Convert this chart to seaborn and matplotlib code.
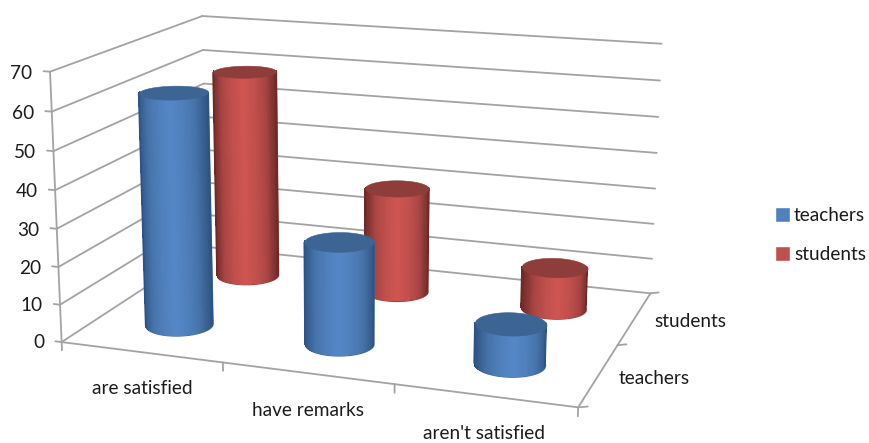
import numpy as np
import matplotlib
matplotlib.use("Agg")
import matplotlib.pyplot as plt
from matplotlib.patches import Patch
from mpl_toolkits.mplot3d import proj3d
from mpl_toolkits.mplot3d.art3d import Poly3DCollection
import seaborn as sns

# data
categories = ["are satisfied", "have remarks", "aren't satisfied"]
series_names = ["teachers", "students"]
teachers = [62, 27, 10.5]
students = [59, 29.5, 11.5]
z_ticks = [0, 10, 20, 30, 40, 50, 60, 70]

sns.set_theme(style="white")
plt.rcParams["font.family"] = ["Lato", "DejaVu Sans"]

grid_col = "#a3a3a3"
text_col = "#1c1c1c"
font_size = 13.7
radius = 0.195
azim = -70.8944

# center -> edge shading of the cylinder sides
blue_shades = sns.blend_palette(["#5587c6", "#4f7fbb", "#4672a8", "#2e5281"], 64)
red_shades = sns.blend_palette(["#ce5551", "#c04f4c", "#a84543", "#6b2927"], 64)


def cylinder(ax, cx, cy, value, shades, top_col, zorder):
    # only the half that faces the camera is drawn
    facing = np.radians(azim)
    theta = np.linspace(facing - np.pi / 2 - 0.12, facing + np.pi / 2 + 0.12, 91)
    heights = np.array([0, value])
    th, zz = np.meshgrid(theta, heights)
    xx = cx + radius * np.cos(th)
    yy = cy + radius * np.sin(th)
    edge = np.minimum(np.abs(np.sin(th - facing)), 1)
    idx = (edge * (len(shades) - 1)).astype(int)
    colors = np.array(shades)[idx]

    # smooth outline under the facets, the facets themselves are not antialiased
    outline = list(zip(xx[0], yy[0], zz[0])) + list(zip(xx[1][::-1], yy[1][::-1], zz[1][::-1]))
    under = Poly3DCollection([outline], facecolors=shades[30], edgecolors=shades[45], linewidths=0.9)
    under.set_zorder(zorder)
    ax.add_collection3d(under, autolim=False)

    surf = ax.plot_surface(xx, yy, zz, facecolors=colors, shade=False,
                           rstride=1, cstride=1, linewidth=0, antialiased=False)
    surf.set_zorder(zorder + 0.2)

    # left and right silhouette lines hide the stair steps of the facets
    ub, _, _ = proj3d.proj_transform(xx[0], yy[0], zz[0], ax.get_proj())
    ut, _, _ = proj3d.proj_transform(xx[1], yy[1], zz[1], ax.get_proj())
    for pick in (np.argmin, np.argmax):
        b, t = pick(ub), pick(ut)
        ax.plot([xx[0][b], xx[1][t]], [yy[0][b], yy[1][t]], [0, value], color=shades[-1],
                lw=1.1, solid_capstyle="butt", zorder=zorder + 0.3)

    circle = np.linspace(0, 2 * np.pi, 121)
    rim = list(zip(cx + radius * np.cos(circle), cy + radius * np.sin(circle),
                   np.full(circle.size, value)))
    top = Poly3DCollection([rim], facecolors=top_col, edgecolors=top_col, linewidths=0.4)
    top.set_zorder(zorder + 0.5)
    ax.add_collection3d(top, autolim=False)


def label(ax, x, y, z, text, **kw):
    # plain 2D text placed at the projected 3D position
    u, v, _ = proj3d.proj_transform(x, y, z, ax.get_proj())
    ax.text2D(u, v, text, transform=ax.transData, fontsize=font_size, color=text_col, **kw)


n_cat = len(categories)
n_ser = len(series_names)

fig = plt.figure(figsize=(8.69, 4.43), dpi=100)
ax = fig.add_axes([32.2 / 869, -82.9 / 443, 655.4 / 869, 655.4 / 443], projection="3d")
ax.computed_zorder = False
ax.set_axis_off()
ax.set_xticks([])
ax.set_yticks([])
ax.set_zticks([])
ax.view_init(elev=14.6957, azim=azim, roll=-0.1597)
ax.set_proj_type("persp", focal_length=0.5082)
ax.set_box_aspect((1.9149, 1.2911, 1))
ax.set_xlim(0, n_cat, view_margin=0)
ax.set_ylim(0, n_ser, view_margin=0)
ax.set_zlim(0, 70, view_margin=0)

line_kw = dict(color=grid_col, lw=1.3, zorder=1)

# walls
for z in z_ticks:
    ax.plot([0, 0], [0, n_ser], [z, z], **line_kw)
    ax.plot([0, n_cat], [n_ser, n_ser], [z, z], **line_kw)
    ax.plot([-0.04, 0], [0, 0], [z, z], **line_kw)

# floor edges and axis lines
ax.plot([0, 0], [0, 0], [0, 70], **line_kw)
ax.plot([0, n_cat], [0, 0], [0, 0], **line_kw)
ax.plot([n_cat, n_cat], [0, n_ser], [0, 0], **line_kw)

for i in range(n_cat + 1):
    ax.plot([i, i], [0, 0], [0, -2.2], **line_kw)
for j in range(n_ser + 1):
    ax.plot([n_cat, n_cat + 0.05], [j, j], [0, 0.5], **line_kw)

# back row first so the front row covers it
for i in range(n_cat):
    cylinder(ax, i + 0.5, 1.52, students[i], red_shades, "#8f3d3a", 3 + i)
for i in range(n_cat):
    cylinder(ax, i + 0.5, 0.5, teachers[i], blue_shades, "#3d6593", 8 + i)

ax.set_xlim(0, n_cat, view_margin=0)
ax.set_ylim(0, n_ser, view_margin=0)
ax.set_zlim(0, 70, view_margin=0)

for z in z_ticks:
    label(ax, -0.11, 0, z - 0.8, str(z), ha="right", va="center")
for i, name in enumerate(categories):
    label(ax, i + 0.5, 0, -9.6, name, ha="center", va="center")
for j, name in enumerate(series_names):
    label(ax, n_cat + 0.30 + 0.03 * j, j + 0.5, 0.8, name, ha="center", va="center")

handles = [Patch(facecolor="#4f81bd", label=series_names[0]),
           Patch(facecolor="#c0504d", label=series_names[1])]
leg = fig.legend(handles=handles, loc="center left", bbox_to_anchor=(775 / 869, 1 - 235 / 443),
                 frameon=False, fontsize=font_size, handlelength=0.8, handleheight=0.8,
                 handletextpad=0.2, labelspacing=1.15, borderpad=0, borderaxespad=0)
for t in leg.get_texts():
    t.set_color(text_col)

fig.savefig("out.png", dpi=100)
